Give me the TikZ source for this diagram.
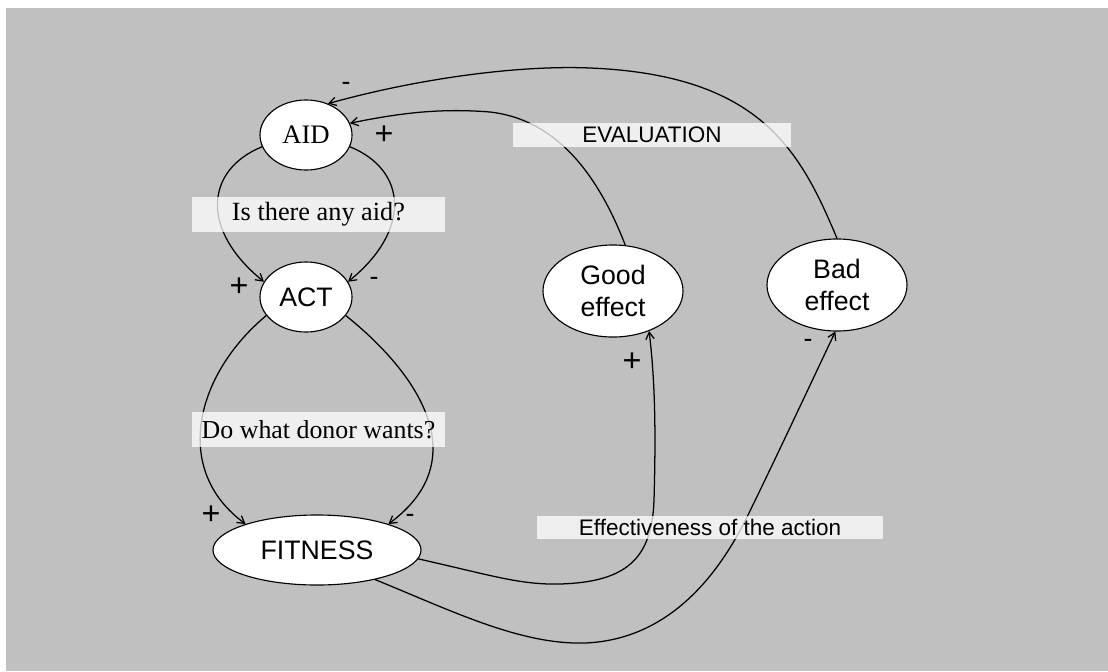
\documentclass[tikz,border=0pt]{standalone}
\usepackage{fontspec}
\setmainfont{Liberation Serif}
\setsansfont{Liberation Sans}
\usetikzlibrary{shapes.geometric,arrows.meta}
\definecolor{bggray}{RGB}{192,192,192}
\begin{document}
\begin{tikzpicture}[x=0.025cm,y=-0.025cm,
  conc/.style={ellipse,draw=black,line width=0.8pt,fill=white,inner sep=0pt,align=center},
  sansbig/.style={font=\fontsize{19}{22.7}\selectfont\sffamily},
  link/.style={draw=black,line width=0.9pt,-{Straight Barb[length=5pt,width=6pt]}},
  labelbox/.style={fill=white,fill opacity=0.75,text opacity=1,inner sep=0pt},
  plussign/.style={font=\fontsize{23}{24}\selectfont\sffamily,inner sep=0pt},
  minussign/.style={font=\fontsize{19}{22}\selectfont\sffamily,inner sep=0pt}
]
\useasboundingbox (0,0) rectangle (1108,671);
\fill[white] (0,0) rectangle (1108,671);
\fill[bggray] (6,8) rectangle (1108,671);

\node[conc,minimum width=2.3cm,minimum height=1.75cm,font=\fontsize{19}{22}\selectfont] (aid) at (306,135) {AID};
\node[conc,minimum width=2.3cm,minimum height=1.75cm,sansbig] (act) at (306,297) {ACT};
\node[conc,minimum width=5.2cm,minimum height=1.75cm,sansbig] (fit) at (317,550) {FITNESS};
\node[conc,minimum width=3.5cm,minimum height=2.3cm,sansbig] (good) at (613,291) {Good\\effect};
\node[conc,minimum width=3.5cm,minimum height=2.3cm,sansbig] (bad) at (837,285) {Bad\\effect};

\draw[link] (aid.195) .. controls (205,170) and (200,230) .. (act.160);
\draw[link] (aid.-15) .. controls (407,170) and (412,230) .. (act.20);
\draw[link] (act.205) .. controls (195,375) and (172,470) .. (fit.160);
\draw[link] (act.-25) .. controls (420,375) and (475,460) .. (fit.20);
\draw[link] (fit.-5) .. controls (490,575) and (520,585) .. (560,584) .. controls (625,582) and (652,560) .. (654,500) .. controls (656,430) and (655,380) .. (good.-48);
\draw[link] (fit.-27) .. controls (450,610) and (520,645) .. (585,643) .. controls (660,640) and (712,588) .. (747,517) .. controls (775,460) and (810,385) .. (bad.-92);
\draw[link] (good.75) .. controls (600,180) and (560,120) .. (490,112) .. controls (440,108) and (400,113) .. (aid.15);
\draw[link] (bad.90) .. controls (800,150) and (760,75) .. (590,68) .. controls (520,65) and (420,78) .. (aid.55);

\node[labelbox,minimum width=6.325cm,minimum height=0.875cm,font=\fontsize{18.7}{20}\selectfont] (q1) at (318.5,214.5) {Is there any aid?};
\node[labelbox,minimum width=6.325cm,minimum height=0.875cm,font=\fontsize{18.4}{20}\selectfont] (q2) at (318.5,429.5) {Do what donor wants?};
\node[labelbox,minimum width=6.95cm,minimum height=0.6cm,font=\fontsize{16}{18}\selectfont\sffamily] (ev) at (652,135) {EVALUATION};
\node[labelbox,minimum width=8.65cm,minimum height=0.575cm,font=\fontsize{16}{18}\selectfont\sffamily] (eff) at (710,527.5) {Effectiveness of the action};

\node[minussign] (s1) at (346,86) {-};
\node[plussign] (s2) at (384,135) {+};
\node[plussign] (s3) at (239,287) {+};
\node[minussign] (s4) at (374,281) {-};
\node[plussign] (s5) at (211,515) {+};
\node[minussign] (s6) at (410,518) {-};
\node[plussign] (s7) at (632,362) {+};
\node[minussign] (s8) at (808,343) {-};
\end{tikzpicture}
\end{document}
